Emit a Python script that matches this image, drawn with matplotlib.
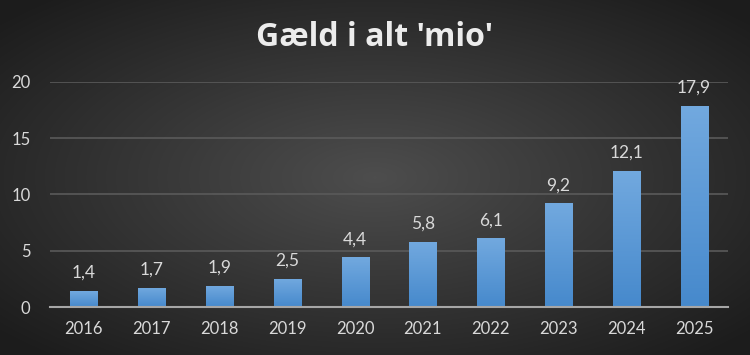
import numpy as np
import matplotlib.pyplot as plt
from matplotlib.colors import LinearSegmentedColormap

years = ["2016", "2017", "2018", "2019", "2020", "2021", "2022", "2023", "2024", "2025"]
debt = [1.4, 1.7, 1.9, 2.5, 4.4, 5.8, 6.1, 9.2, 12.1, 17.9]
yticks = [0, 5, 10, 15, 20]

text_color = "#d9d9d9"
plt.rcParams["font.family"] = ["Lato", "DejaVu Sans"]

fig = plt.figure(figsize=(7.5, 3.55), dpi=100)

# radial gradient background
bg = fig.add_axes([0, 0, 1, 1], zorder=-10)
xx, yy = np.meshgrid(np.linspace(-1, 1, 750), np.linspace(-1, 1, 355))
r = np.clip(np.sqrt(xx**2 + yy**2) / 1.35, 0, 1)
bg_cmap = LinearSegmentedColormap.from_list("bg", ["#4d4d4d", "#1c1c1c"])
bg.imshow(r, cmap=bg_cmap, aspect="auto", extent=[0, 1, 0, 1])
bg.axis("off")

ax = fig.add_axes([0.0667, 0.1352, 0.904, 0.634])
ax.set_facecolor("none")
x = np.arange(len(years))
bars = ax.bar(x, debt, width=0.4, color="#5b9bd5", zorder=3)

# vertical gradient on bars
bar_cmap = LinearSegmentedColormap.from_list("bar", ["#4689cc", "#72a9df"])
grad = np.linspace(0, 1, 256).reshape(-1, 1)
for b in bars:
    x0, w, h = b.get_x(), b.get_width(), b.get_height()
    im = ax.imshow(grad, cmap=bar_cmap, origin="lower", aspect="auto",
                   extent=[x0, x0 + w, 0, h], zorder=4)
    im.set_clip_path(b)

for xi, v in zip(x, debt):
    ax.text(xi, v + 0.9, f"{v:.1f}".replace(".", ","), ha="center", va="bottom",
            color=text_color, fontsize=12.5)

ax.set_xlim(-0.5, len(years) - 0.5)
ax.set_ylim(0, 20)
ax.set_yticks(yticks)
ax.set_xticks(x)
ax.set_xticklabels(years)
ax.tick_params(colors=text_color, labelsize=12, length=0)
ax.tick_params(axis="x", pad=10)
ax.tick_params(axis="y", pad=14)
ax.grid(axis="y", color="#5a5a5a", linewidth=1.2, zorder=0)
for s in ["top", "right", "left"]:
    ax.spines[s].set_visible(False)
ax.spines["bottom"].set_color("#a6a6a6")
ax.spines["bottom"].set_linewidth(1.5)
ax.spines["bottom"].set_zorder(5)

fig.text(0.5, 0.893, "Gæld i alt 'mio'", ha="center", va="center",
         color="#ececec", fontsize=23, fontweight="bold", family="Open Sans")

fig.savefig("out.png", dpi=100)
